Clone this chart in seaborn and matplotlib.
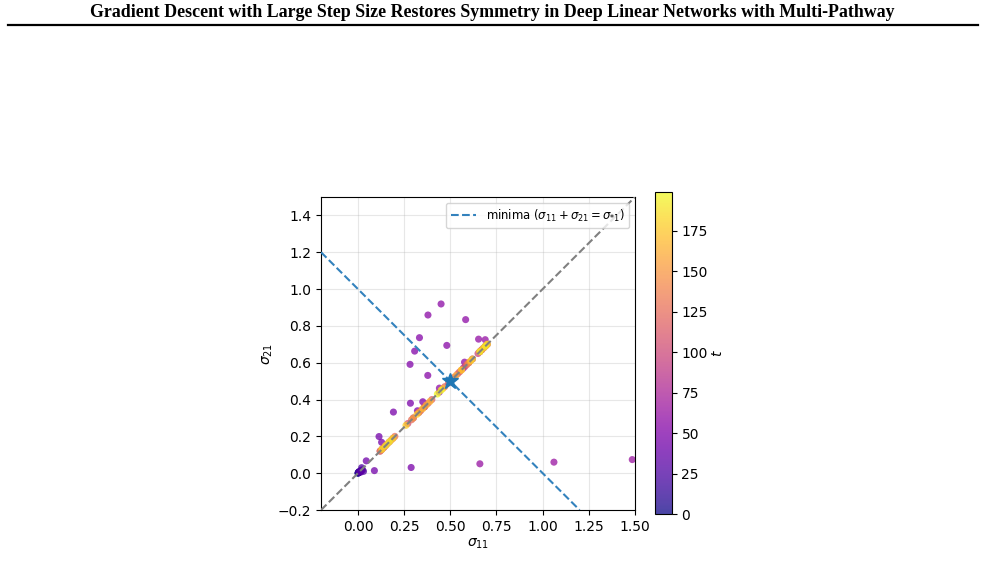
import numpy as np
import pandas as pd
import matplotlib
matplotlib.use('Agg')
import matplotlib.pyplot as plt
import seaborn as sns

# trajectory of (sigma_11, sigma_21) over GD steps t
early_x = [0.000, 0.001, 0.002, 0.003, 0.004, 0.005, 0.006, 0.008, 0.010, 0.012,
           0.015, 0.018, 0.005, 0.020, 0.030, 0.025, 0.014]
early_y = [0.000, 0.001, 0.002, 0.003, 0.004, 0.005, 0.006, 0.007, 0.009, 0.010,
           0.012, 0.016, 0.008, 0.030, 0.010, 0.018, 0.005]
early_t = [0, 2, 4, 6, 8, 10, 12, 14, 16, 18, 20, 22, 24, 26, 28, 30, 32]

mid_x = [0.045, 0.089, 0.114, 0.128, 0.192, 0.288, 0.284, 0.322, 0.351, 0.282,
         0.307, 0.333, 0.378, 0.481, 0.379, 0.450, 0.583, 0.441, 0.577, 0.653,
         0.689, 0.660, 1.061, 1.485]
mid_y = [0.067, 0.014, 0.199, 0.168, 0.332, 0.031, 0.380, 0.339, 0.388, 0.591,
         0.663, 0.736, 0.531, 0.694, 0.859, 0.919, 0.834, 0.462, 0.603, 0.728,
         0.725, 0.051, 0.060, 0.074]
mid_t = [42, 43, 44, 45, 46, 47, 48, 49, 50, 51, 52, 53, 54, 55, 56, 57, 58, 59,
         60, 61, 62, 63, 64, 65]

# late iterates oscillate along the diagonal sigma_11 = sigma_21
diag_s = [0.44, 0.57, 0.33, 0.60, 0.36, 0.62, 0.30, 0.66, 0.14, 0.68,
          0.13, 0.70, 0.12, 0.69, 0.15, 0.67, 0.17, 0.65, 0.19, 0.58,
          0.27, 0.55, 0.34, 0.52, 0.38, 0.49, 0.40, 0.47, 0.36, 0.54,
          0.29, 0.59, 0.20, 0.66, 0.13, 0.70, 0.12, 0.69, 0.14, 0.67,
          0.16, 0.66, 0.18, 0.60, 0.30, 0.56, 0.33, 0.53, 0.37, 0.50,
          0.39, 0.46, 0.35, 0.56, 0.32, 0.61, 0.26, 0.62, 0.19, 0.68,
          0.13, 0.70, 0.15, 0.69, 0.17, 0.66, 0.43, 0.45]
diag_t = [66, 68, 70, 72, 74, 76, 78, 80, 82, 84, 86, 88, 90, 92, 94, 96, 98,
          100, 102, 104, 106, 108, 110, 112, 114, 116, 118, 120, 122, 124, 126,
          128, 130, 132, 134, 136, 138, 140, 142, 144, 146, 148, 150, 152, 154,
          156, 158, 160, 162, 164, 166, 168, 170, 172, 174, 176, 178, 180, 182,
          184, 186, 188, 190, 192, 194, 196, 198, 199]

minima_x = [-0.2, 1.2]
minima_y = [1.2, -0.2]
diag_line = [-0.2, 1.5]
star = (0.5, 0.5)
t_max = 199

df = pd.DataFrame({
    'sigma11': early_x + mid_x + diag_s,
    'sigma21': early_y + mid_y + diag_s,
    't': early_t + mid_t + diag_t,
})

fig = plt.figure(figsize=(9.85, 5.78), dpi=100)

# page header of the paper
fig.text(0.5, 0.978, 'Gradient Descent with Large Step Size Restores Symmetry in Deep Linear Networks with Multi-Pathway',
         ha='center', va='center', fontsize=12.9, fontweight='bold', family='Liberation Serif')
fig.add_artist(plt.Line2D([0.008, 0.993], [0.956, 0.956], color='black', lw=1.6))

ax = fig.add_axes([0.3259, 0.1176, 0.3188, 0.5416])
cax = fig.add_axes([0.665, 0.1107, 0.017, 0.5571])

sns.scatterplot(data=df, x='sigma11', y='sigma21', hue='t', palette='plasma',
                hue_norm=(0, t_max), s=26, linewidth=0, alpha=0.75, legend=False,
                ax=ax, zorder=2)

ax.plot(diag_line, diag_line, ls='--', color='gray', lw=1.5, zorder=3)
ax.plot(minima_x, minima_y, ls='--', color='#3382bd', lw=1.5, zorder=3,
        label=r'minima ($\sigma_{11}+\sigma_{21}=\sigma_{*1}$)')
ax.plot([star[0]], [star[1]], marker='*', color='#1f77b4', markersize=12, zorder=4)

ax.set_xlim(-0.2, 1.5)
ax.set_ylim(-0.2, 1.5)
ax.set_xticks([0.0, 0.25, 0.5, 0.75, 1.0, 1.25, 1.5])
ax.set_xticklabels(['0.00', '0.25', '0.50', '0.75', '1.00', '1.25', '1.50'])
ax.set_yticks(np.round(np.arange(-0.2, 1.41, 0.2), 1))
ax.tick_params(labelsize=10)
ax.set_xlabel(r'$\sigma_{11}$', fontsize=10, labelpad=2)
ax.set_ylabel(r'$\sigma_{21}$', fontsize=10, labelpad=2)
ax.grid(True, alpha=0.3)
ax.set_axisbelow(True)
ax.legend(loc='upper right', fontsize=8.4, handlelength=2.2, borderpad=0.4)

sm = plt.cm.ScalarMappable(cmap='plasma', norm=plt.Normalize(0, t_max))
cb = fig.colorbar(sm, cax=cax)
cb.solids.set_alpha(0.75)
cb.set_ticks([0, 25, 50, 75, 100, 125, 150, 175])
cb.ax.tick_params(labelsize=10)
cb.set_label('$t$', fontsize=10, labelpad=2)

fig.savefig('out.png', dpi=100)
